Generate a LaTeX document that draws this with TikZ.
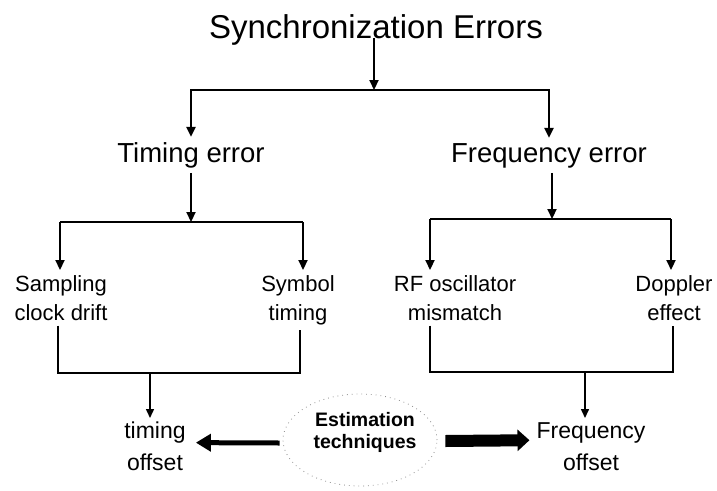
\documentclass[tikz,border=0pt]{standalone}
\usepackage{fontspec}
\setmainfont{Liberation Sans}
\usetikzlibrary{arrows.meta,shapes.geometric}
\begin{document}
\begin{tikzpicture}
	[
		x={(1pt,0pt)},
		y={(0pt,-1pt)},
		wire/.style={line width=2.2pt},
		arr/.style={line width=2.2pt, -{Triangle[length=10pt,width=9pt]}},
		thinarr/.style={line width=1.5pt, -{Triangle[length=9pt,width=8pt]}},
		headline/.style={font=\fontsize{33}{36}\selectfont, inner sep=0pt, anchor=base},
		errtype/.style={font=\fontsize{27.5}{30}\selectfont, inner sep=5pt, anchor=base},
		cause/.style={font=\fontsize{22}{29}\selectfont, align=center, inner sep=5pt, anchor=north},
		offsetbox/.style={font=\fontsize{23}{32}\selectfont, align=center, inner sep=4pt, anchor=north},
		estcloud/.style={ellipse, draw=black!45, line width=0.8pt, dash pattern=on 0.8pt off 4pt,
			minimum width=154pt, minimum height=92pt},
		esttext/.style={font=\bfseries\fontsize{19.5}{22}\selectfont, align=center, inner sep=3pt, anchor=north}
	]
	\useasboundingbox (0,0) rectangle (717,490);
	% Top levels
	\node[headline] (sync) at (376,38) {Synchronization Errors};
	\node[errtype] (timerr) at (191,162) {Timing error};
	\node[errtype] (freqerr) at (549,162) {Frequency error};
	\coordinate (bus1) at (374,90);
	\draw[arr] (sync.base -| bus1) -- (bus1);
	\draw[arr] (bus1) -| (timerr.north);
	\draw[arr] (bus1) -| (freqerr.north);
	% Causes
	\node[cause] (samp) at (61,270) {Sampling\\clock drift};
	\node[cause] (symb) at (298,270) {Symbol\\timing};
	\node[cause] (rfosc) at (455,270) {RF oscillator\\mismatch};
	\node[cause] (dopp) at (674,270) {Doppler\\effect};
	\coordinate (tb1) at (60,222);
	\coordinate (tb2) at (303,222);
	\coordinate (fb1) at (430,219);
	\coordinate (fb2) at (671,219);
	\coordinate (fbm) at (552,219);
	\draw[arr] (timerr.south) -- (timerr.south |- tb1);
	\draw[arr] (freqerr.south -| fbm) -- (fbm);
	\draw[wire] (tb1) -- (tb2);
	\draw[wire] (fb1) -- (fb2);
	\draw[arr] (tb1) -- (tb1 |- samp.north);
	\draw[arr] (tb2) -- (tb2 |- symb.north);
	\draw[arr] (fb1) -- (fb1 |- rfosc.north);
	\draw[arr] (fb2) -- (fb2 |- dopp.north);
	% Offsets
	\node[offsetbox] (toff) at (155,418) {timing\\offset};
	\node[offsetbox] (foff) at (591,418) {Frequency\\offset};
	\coordinate (tj1) at (58,373);
	\coordinate (tj2) at (300,373);
	\coordinate (tjm) at (150,373);
	\coordinate (fj1) at (430,372);
	\coordinate (fj2) at (673,372);
	\coordinate (fjm) at (585,372);
	\draw[wire] (tj1 |- samp.south) -- (tj1) -- (tj2) -- (tj2 |- symb.south);
	\draw[wire] (fj1 |- rfosc.south) -- (fj1) -- (fj2) -- (fj2 |- dopp.south);
	\draw[thinarr] (tjm) -- (tjm |- toff.north);
	\draw[thinarr] (fjm) -- (fjm |- foff.north);
	% Estimation
	\node[estcloud] (cloud) at (360,440) {};
	\node[esttext] (est) at (365,409) {Estimation\\techniques};
	\draw[line width=5pt, -{Triangle[length=15pt,width=17pt]}]
		([shift={(-3pt,-3pt)}]cloud.west) -- ([shift={(6pt,4pt)}]toff.east);
	\draw[line width=12pt, -{Triangle[length=12pt,width=21pt]}]
		([shift={(8pt,-1pt)}]cloud.east) -- ([shift={(-3pt,6pt)}]foff.west);
\end{tikzpicture}
\end{document}
